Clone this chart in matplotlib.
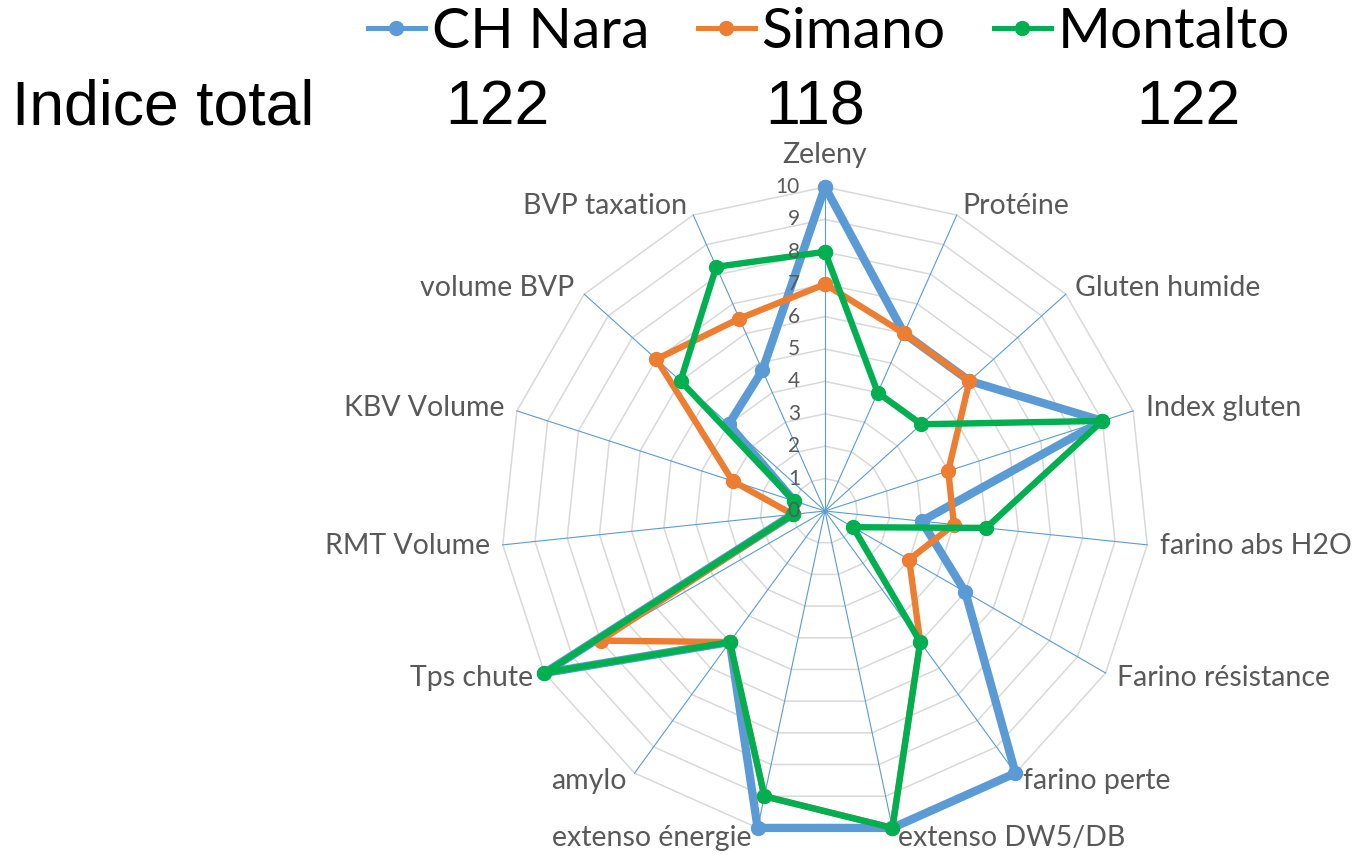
import numpy as np
import matplotlib; matplotlib.use("Agg")
import matplotlib.pyplot as plt
from matplotlib.lines import Line2D

# radar data (scale 0-10)
CATS = ["Zeleny", "Protéine", "Gluten humide", "Index gluten", "farino abs H2O",
        "Farino résistance", "farino perte", "extenso DW5/DB", "extenso énergie",
        "amylo", "Tps chute", "RMT Volume", "KBV Volume", "volume BVP", "BVP taxation"]
ch_nara  = [10, 6, 6, 9, 3, 5, 10, 10, 10, 5, 10, 1, 1, 4, 4.75]
simano   = [7, 6, 6, 4, 4, 3, 5, 10, 9, 5, 8, 1, 3, 7, 6.5]
montalto = [8, 4, 4, 9, 5, 1, 5, 10, 9, 5, 10, 1, 1, 6, 8.25]
SERIES = ["CH Nara", "Simano", "Montalto"]
TOTALS = [122, 118, 122]
RINGS = list(range(0, 11))

COLS = {"CH Nara": "#5B9BD5", "Simano": "#ED7D31", "Montalto": "#00B050"}
LW = {"CH Nara": 6.0, "Simano": 4.6, "Montalto": 4.6}
TXT = "#595959"
LAB_FONT = ["Lato", "DejaVu Sans"]

n = len(CATS)
ang = np.arange(n) * 2 * np.pi / n
angc = np.append(ang, ang[0])

fig = plt.figure(figsize=(13.55, 8.56), dpi=100)
ax = fig.add_axes([501/1355, 21/856, 648/1355, 648/856], projection="polar")
ax.set_theta_zero_location("N"); ax.set_theta_direction(-1)
ax.set_ylim(0, 10)
ax.set_xticks([]); ax.set_yticks([]); ax.grid(False)
ax.spines["polar"].set_visible(False)
ax.patch.set_alpha(0)

# polygon gridlines + spokes
for r in RINGS[1:]:
    ax.plot(angc, [r]*(n+1), color="#D9D9D9", lw=1.1, zorder=1, clip_on=False)
for a in ang:
    ax.plot([a, a], [0, 10], color="#5B9BD5", lw=0.8, zorder=2, clip_on=False)

for name, vals in zip(SERIES, [ch_nara, simano, montalto]):
    v = np.append(vals, vals[0])
    ax.plot(angc, v, color=COLS[name], lw=LW[name], marker="o", ms=10,
            solid_joinstyle="round", zorder=3, clip_on=False)

# radial tick labels along the Zeleny spoke
for r in RINGS:
    ax.annotate(str(r), xy=(0, r), xytext=(-25, 0), textcoords="offset pixels",
                ha="right", va="center", fontsize=15, color=TXT, family=LAB_FONT)

# category labels
for a, c in zip(ang, CATS):
    s, co = np.sin(a), np.cos(a)
    if abs(s) < 1e-6:
        ha, off = "center", (0, 32)
    else:
        ha = "left" if s > 0 else "right"
        off = (13*np.sign(s)*max(abs(s), 0.45), 10*co)
    ax.annotate(c, xy=(a, 10), xytext=off, textcoords="offset pixels",
                ha=ha, va="center", fontsize=20.5, color=TXT, family=LAB_FONT)

handles = [Line2D([], [], color=COLS[s], lw=3.6, marker="o", ms=10) for s in SERIES]
fig.legend(handles, SERIES, loc="upper center", bbox_to_anchor=(829/1355, 1.032), ncol=3,
           frameon=False, prop={"family": LAB_FONT, "size": 41}, handlelength=1.0,
           handletextpad=0.12, columnspacing=0.85, borderpad=0.1)

fig.text(12/1355, 1-108/856, "Indice total", fontsize=45, family="Liberation Sans",
         ha="left", va="center")
for x, t in zip([497, 815, 1188], TOTALS):
    fig.text(x/1355, 1-108/856, str(t), fontsize=45, family="Liberation Sans",
             ha="center", va="center")

fig.savefig("out.png", dpi=100)
